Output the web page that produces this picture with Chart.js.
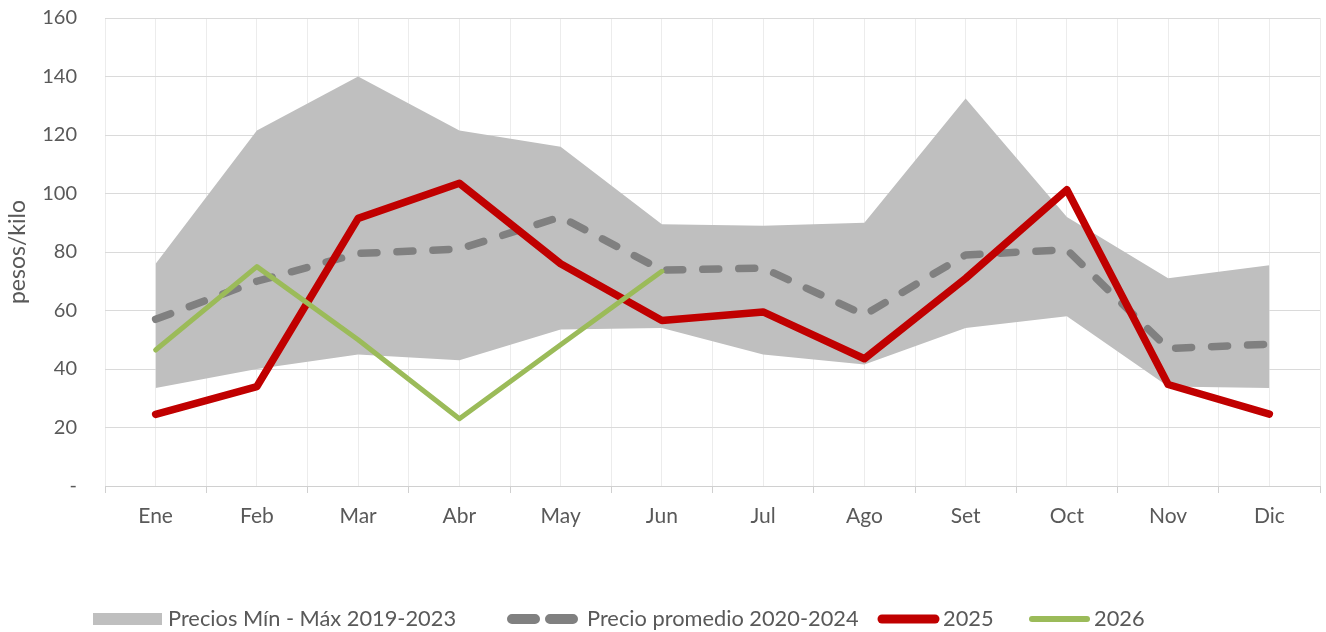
<!DOCTYPE html>
<html>
<head>
<meta charset="utf-8">
<script src="https://cdn.jsdelivr.net/npm/chart.js@4.4.0/dist/chart.umd.min.js"></script>
<style>
  html, body { margin: 0; padding: 0; background: #fff; }
  #wrap { width: 1326px; height: 632px; position: relative; }
</style>
</head>
<body>
<div id="wrap"><canvas id="priceChart"></canvas></div>
<script>
    const months = ["Ene", "Feb", "Mar", "Abr", "May", "Jun", "Jul", "Ago", "Set", "Oct", "Nov", "Dic"];
    const bandMax = [76, 121.5, 140, 121.5, 116, 89.5, 89, 90, 132.5, 92, 71, 75.5];
    const bandMin = [33.5, 40, 45, 43, 53.5, 54, 45, 41.5, 54, 58, 34, 33.5];
    const avg2020_2024 = [57, 70, 79.5, 81, 92, 73.8, 74.5, 58.5, 79, 80.8, 47, 48.5];
    const y2025 = [24.5, 34, 91.5, 103.5, 76, 56.6, 59.5, 43.5, 71, 101.3, 34.7, 24.6];
    const y2026 = [46.5, 75, 50, 23, 48.3, 73.4];
    const yTicks = [0, 20, 40, 60, 80, 100, 120, 140, 160];

    const textColor = '#595959';
    const fontFamily = "Lato, 'Open Sans', sans-serif";

    // legend drawn by hand: box, dashed line, two solid lines
    const customLegend = {
        id: 'customLegend',
        afterDraw(chart) {
            const ctx = chart.ctx;
            const y = 619;
            ctx.save();
            ctx.font = '21.8px ' + fontFamily;
            ctx.textBaseline = 'middle';

            ctx.fillStyle = '#bfbfbf';
            ctx.fillRect(93, 613, 69, 12);
            ctx.fillStyle = textColor;
            ctx.fillText('Precios Mín - Máx 2019-2023', 168, y);

            ctx.lineCap = 'round';
            ctx.strokeStyle = '#808080';
            ctx.lineWidth = 10;
            ctx.beginPath();
            ctx.moveTo(512, y); ctx.lineTo(535, y);
            ctx.moveTo(550, y); ctx.lineTo(573, y);
            ctx.stroke();
            ctx.fillText('Precio promedio 2020-2024', 587, y);

            ctx.strokeStyle = '#c00000';
            ctx.lineWidth = 9;
            ctx.beginPath();
            ctx.moveTo(882, y); ctx.lineTo(935, y);
            ctx.stroke();
            ctx.fillText('2025', 943, y);

            ctx.strokeStyle = '#9bbb59';
            ctx.lineWidth = 6;
            ctx.beginPath();
            ctx.moveTo(1032, y); ctx.lineTo(1087, y);
            ctx.stroke();
            ctx.fillText('2026', 1094, y);
            ctx.restore();
        }
    };

    const ctxPrice = document.getElementById('priceChart').getContext('2d');

    new Chart(ctxPrice, {
        type: 'line',
        data: {
            labels: months,
            datasets: [
                {
                    label: 'Precios Mín - Máx 2019-2023',
                    data: bandMax,
                    borderWidth: 0,
                    pointRadius: 0,
                    backgroundColor: '#bfbfbf',
                    fill: 1,
                    order: 4
                },
                {
                    label: 'min',
                    data: bandMin,
                    borderWidth: 0,
                    pointRadius: 0,
                    fill: false,
                    order: 5
                },
                {
                    label: 'Precio promedio 2020-2024',
                    data: avg2020_2024,
                    borderColor: '#808080',
                    borderWidth: 7.5,
                    borderDash: [16, 20],
                    borderCapStyle: 'round',
                    borderJoinStyle: 'round',
                    pointRadius: 0,
                    fill: false,
                    order: 2
                },
                {
                    label: '2025',
                    data: y2025,
                    borderColor: '#c00000',
                    borderWidth: 7.5,
                    borderCapStyle: 'round',
                    borderJoinStyle: 'round',
                    pointRadius: 0,
                    fill: false,
                    order: 1
                },
                {
                    label: '2026',
                    data: y2026,
                    borderColor: '#9bbb59',
                    borderWidth: 5,
                    borderCapStyle: 'round',
                    borderJoinStyle: 'round',
                    pointRadius: 0,
                    fill: false,
                    order: 0
                }
            ]
        },
        options: {
            responsive: true,
            maintainAspectRatio: false,
            animation: false,
            events: [],
            layout: { padding: { top: 18, right: 6, bottom: 0, left: 0 } },
            plugins: {
                legend: { display: false },
                tooltip: { enabled: false }
            },
            scales: {
                x: {
                    type: 'category',
                    offset: true,
                    grid: {
                        offset: true,
                        drawOnChartArea: false,
                        drawTicks: true,
                        tickLength: 7,
                        color: '#d0d0d0'
                    },
                    border: { display: true, color: '#d0d0d0', width: 1 },
                    ticks: {
                        color: textColor,
                        padding: 11,
                        maxRotation: 0,
                        font: { family: fontFamily, size: 21 }
                    },
                    afterFit(scale) { scale.height = 146; }
                },
                xg: {
                    type: 'linear',
                    position: 'bottom',
                    min: -0.5,
                    max: 11.5,
                    ticks: { display: false, stepSize: 0.5 },
                    grid: { color: '#ececec', drawTicks: false },
                    border: { display: false },
                    afterFit(scale) { scale.height = 0; }
                },
                y: {
                    min: 0,
                    max: 160,
                    afterBuildTicks(scale) { scale.ticks = yTicks.map(v => ({ value: v })); },
                    grid: { color: '#dadada', drawTicks: false },
                    border: { display: false },
                    ticks: {
                        color: textColor,
                        padding: 28,
                        font: { family: fontFamily, size: 20 },
                        callback: v => v === 0 ? '-' : v
                    },
                    title: {
                        display: true,
                        text: 'pesos/kilo',
                        color: textColor,
                        padding: { top: 4, bottom: 0 },
                        font: { family: fontFamily, size: 23 }
                    },
                    afterFit(scale) {
                        scale.width = 105;
                        scale.paddingTop = 0;
                        scale.paddingBottom = 0;
                    }
                }
            }
        },
        plugins: [customLegend]
    });
</script>
</body>
</html>
